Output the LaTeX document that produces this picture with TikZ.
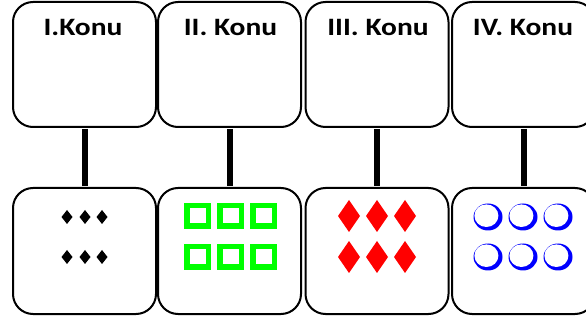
\documentclass[tikz,border=0pt]{standalone}
\usepackage{fontspec}
\setmainfont{Carlito}
\usepackage{graphicx}
\begin{document}
\begin{tikzpicture}[x=1pt,y=-1pt,
  box/.style={draw=black,line width=2pt,rounded corners=20pt,minimum width=143pt,minimum height=125pt,inner sep=0pt,fill=white},
  link/.style={line width=6pt,draw=black},
  title/.style={font=\fontsize{25pt}{27pt}\selectfont\bfseries,inner sep=0pt,anchor=base}]
\useasboundingbox (0,0) rectangle (586,320);
\fill[white] (0,0) rectangle (586,320);
\node[box] (t1) at (84.5,64.5) {};
\node[box] (t2) at (229.5,64.5) {};
\node[box] (t3) at (377,64.5) {};
\node[box] (t4) at (523.5,64.5) {};
\node[box,minimum height=126pt] (b1) at (84.5,251) {};
\node[box,minimum height=126pt] (b2) at (229.5,251) {};
\node[box,minimum height=126pt] (b3) at (377,251) {};
\node[box,minimum height=126pt] (b4) at (523.5,251) {};
\foreach \i in {1,...,4}{\draw[link] ([yshift=-1pt]t\i.south) -- ([yshift=1pt]b\i.north);}
% titles
\node[title] (l1) at (83,36) {\scalebox{1.18}[1]{I.Konu}};
\node[title] (l2) at (230.5,36) {\scalebox{1.18}[1]{II. Konu}};
\node[title] (l3) at (378,36) {\scalebox{1.18}[1]{III. Konu}};
\node[title] (l4) at (523,36) {\scalebox{1.18}[1]{IV. Konu}};
% black diamonds
\foreach \x in {67,85,102}{\foreach \y in {217,257}{
  \fill[black] (\x-5.5,\y) -- (\x,\y-7) -- (\x+5.5,\y) -- (\x,\y+7) -- cycle;}}
% green squares
\foreach \x in {197.5,230.5,263.5}{\foreach \y in {216,257}{
  \draw[line width=5.5pt,draw={rgb,255:red,0;green,255;blue,0}] (\x-10.75,\y-10.25) rectangle (\x+10.75,\y+10.25);}}
% red diamonds
\foreach \x in {349,377,405}{\foreach \y in {216,257}{
  \fill[red] (\x-11,\y) -- (\x,\y-16) -- (\x+11,\y) -- (\x,\y+16) -- cycle;}}
% blue shadowed circles
\foreach \x in {488,523,558}{\foreach \y in {217,257}{
  \fill[blue] (\x,\y) ellipse (14.5pt and 13.5pt);
  \fill[white] (\x-1.6,\y-1.3) ellipse (12pt and 11.3pt);}}
\end{tikzpicture}
\end{document}
